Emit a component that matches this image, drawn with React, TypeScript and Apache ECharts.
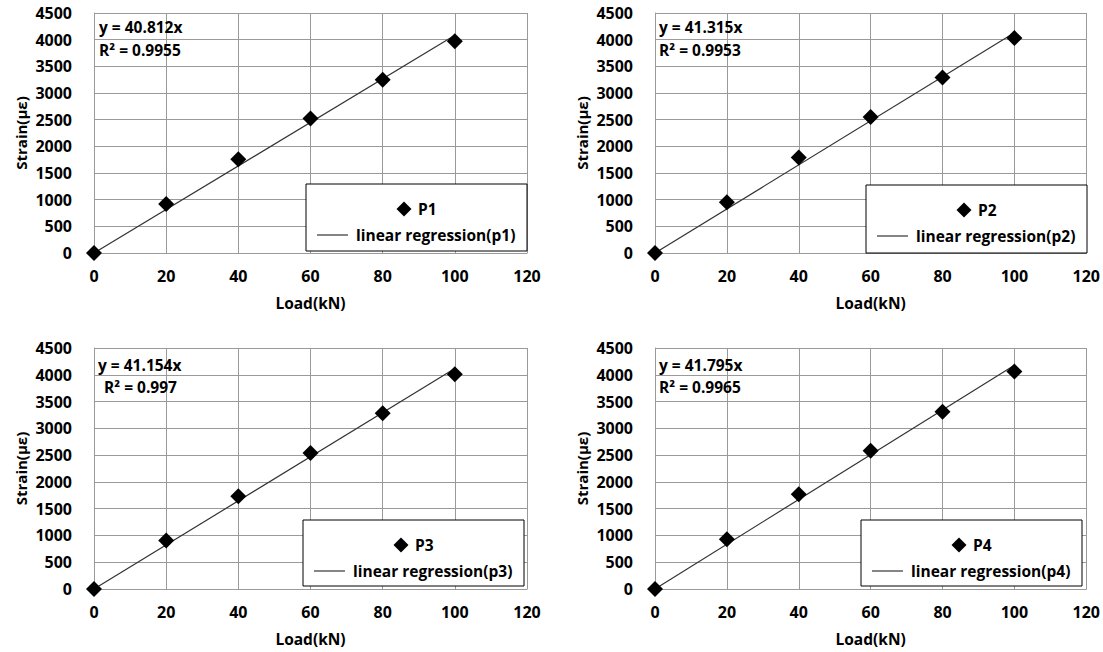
import React, { useEffect, useRef } from "react";
import * as echarts from "echarts";

// ---- data ----
const loads = [0, 20, 40, 60, 80, 100];
const p1 = [0, 920, 1760, 2520, 3250, 3970];
const p2 = [0, 950, 1790, 2550, 3290, 4030];
const p3 = [0, 905, 1730, 2540, 3280, 4010];
const p4 = [0, 930, 1770, 2580, 3310, 4060];
const slopes = [40.812, 41.315, 41.154, 41.795];
const r2Labels = ["0.9955", "0.9953", "0.997", "0.9965"];
const seriesNames = ["P1", "P2", "P3", "P4"];
const fitNames = [
  "linear regression(p1)",
  "linear regression(p2)",
  "linear regression(p3)",
  "linear regression(p4)",
];
const fitRange = [0, 100];

const FONT = "'Open Sans', Lato, sans-serif";
const GRID_COLOR = "#9a9a9a";

export default function App() {
  const ref = useRef<HTMLDivElement>(null);

  useEffect(() => {
    if (!ref.current) return;
    const chart = echarts.init(ref.current, undefined, { renderer: "svg" });
    const allSeries = [p1, p2, p3, p4];

    const grids = [
      { left: 94, top: 13, width: 433, height: 240 },
      { left: 655, top: 13, width: 433, height: 240 },
      { left: 94, top: 348, width: 433, height: 241 },
      { left: 655, top: 348, width: 433, height: 241 },
    ];
    const legendBoxes = [
      { x: 306, y: 184, w: 221, h: 67 },
      { x: 866, y: 185, w: 221, h: 68 },
      { x: 303, y: 520, w: 221, h: 66 },
      { x: 861, y: 520, w: 221, h: 66 },
    ];
    const eqPos = [
      [99, 27, 99, 50],
      [659, 27, 659, 50],
      [98, 365, 104, 387],
      [659, 365, 659, 387],
    ];

    const labelStyle = { fontFamily: FONT, fontWeight: "bold", fontSize: 16, color: "#000" };
    const textFont = `bold 15.5px ${FONT}`;

    const xAxis = grids.map((_, i) => ({
      type: "value",
      gridIndex: i,
      min: 0,
      max: 120,
      interval: 20,
      name: "Load(kN)",
      nameLocation: "middle",
      nameGap: 42,
      nameTextStyle: { ...labelStyle, fontSize: 15.5 },
      axisLine: { show: true, lineStyle: { color: GRID_COLOR, width: 1 } },
      axisTick: { show: false },
      axisLabel: { ...labelStyle, margin: 15 },
      splitLine: { show: true, lineStyle: { color: GRID_COLOR, width: 1 } },
    }));
    const yAxis = grids.map((_, i) => ({
      type: "value",
      gridIndex: i,
      min: 0,
      max: 4500,
      interval: 500,
      name: "Strain(με)",
      nameLocation: "middle",
      nameGap: 66,
      nameRotate: 90,
      nameTextStyle: { ...labelStyle, fontSize: 15 },
      axisLine: { show: true, lineStyle: { color: GRID_COLOR, width: 1 } },
      axisTick: { show: false },
      axisLabel: { ...labelStyle, margin: 22, formatter: (v: number) => String(v) },
      splitLine: { show: true, lineStyle: { color: GRID_COLOR, width: 1 } },
    }));

    const series: any[] = [];
    allSeries.forEach((vals, i) => {
      series.push({
        type: "line",
        name: fitNames[i],
        xAxisIndex: i,
        yAxisIndex: i,
        data: fitRange.map((x) => [x, slopes[i] * x]),
        showSymbol: false,
        symbol: "none",
        lineStyle: { color: "#333", width: 1.2 },
        z: 2,
      });
      series.push({
        type: "scatter",
        name: seriesNames[i],
        xAxisIndex: i,
        yAxisIndex: i,
        data: loads.map((x, j) => [x, vals[j]]),
        symbol: "diamond",
        symbolSize: 16,
        itemStyle: { color: "#000", opacity: 1 },
        z: 3,
      });
    });

    const graphic: any[] = [];
    legendBoxes.forEach((b, i) => {
      graphic.push({
        type: "rect",
        z: 100,
        shape: { x: b.x, y: b.y, width: b.w, height: b.h },
        style: { fill: "#fff", stroke: "#000", lineWidth: 1 },
      });
      const dx = b.x + 98;
      const dy = b.y + 25;
      graphic.push({
        type: "polygon",
        z: 101,
        shape: { points: [[dx, dy - 7.5], [dx + 7.5, dy], [dx, dy + 7.5], [dx - 7.5, dy]] },
        style: { fill: "#000" },
      });
      graphic.push({
        type: "text",
        z: 101,
        x: b.x + 112,
        y: dy,
        style: { text: seriesNames[i], font: textFont, fill: "#000", verticalAlign: "middle" },
      });
      graphic.push({
        type: "line",
        z: 101,
        shape: { x1: b.x + 11, y1: b.y + 51, x2: b.x + 42, y2: b.y + 51 },
        style: { stroke: "#333", lineWidth: 1.2 },
      });
      graphic.push({
        type: "text",
        z: 101,
        x: b.x + 50,
        y: b.y + 51,
        style: { text: fitNames[i], font: textFont, fill: "#000", verticalAlign: "middle" },
      });
      const e = eqPos[i];
      graphic.push({
        type: "text",
        z: 101,
        x: e[0],
        y: e[1],
        style: { text: `y = ${slopes[i]}x`, font: textFont, fill: "#000", verticalAlign: "middle" },
      });
      graphic.push({
        type: "text",
        z: 101,
        x: e[2],
        y: e[3],
        style: { text: `R² = ${r2Labels[i]}`, font: textFont, fill: "#000", verticalAlign: "middle" },
      });
    });

    chart.setOption({
      animation: false,
      backgroundColor: "#fff",
      grid: grids.map((g) => ({ ...g, containLabel: false })),
      xAxis,
      yAxis,
      series,
      graphic,
    });
    return () => chart.dispose();
  }, []);

  return (
    <div
      ref={ref}
      style={{ position: "fixed", left: 0, top: 0, width: 1103, height: 652, background: "#fff" }}
    />
  );
}
